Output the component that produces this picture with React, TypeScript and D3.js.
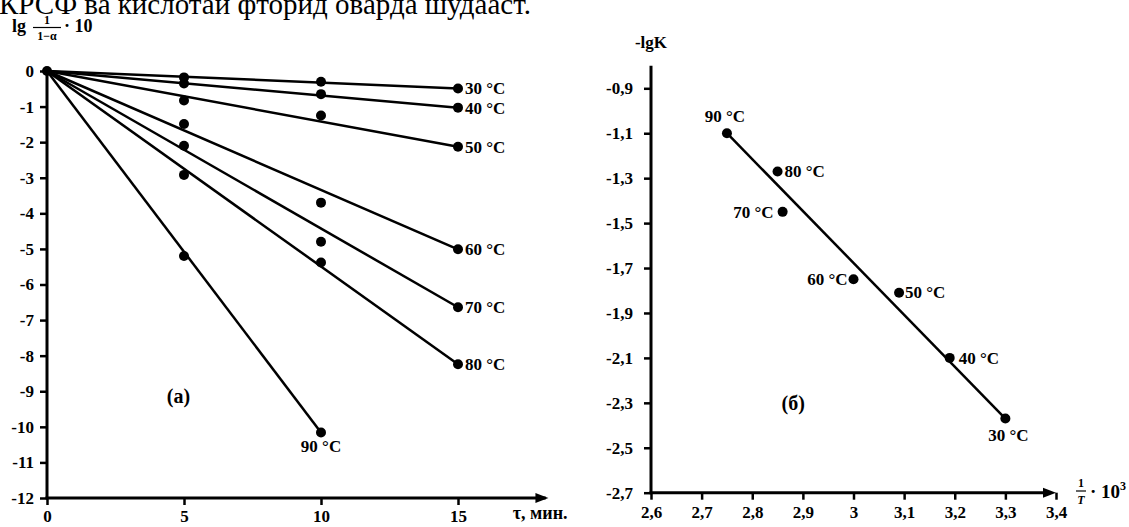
import * as d3 from "d3";
import React, { useEffect, useRef } from "react";

// (а) — lg(1/(1-α))·10 against time, min
const tau = [0, 5, 10, 15];
const tempsA = ["30 °C", "40 °C", "50 °C", "60 °C", "70 °C", "80 °C", "90 °C"];
const at5 = [-0.18, -0.35, -0.83, -1.49, -2.1, -2.92, -5.2];
const at10 = [-0.3, -0.65, -1.25, -3.7, -4.8, -5.38, -10.16];
const at15 = [-0.49, -1.03, -2.13, -5.01, -6.64, -8.24, null];
const yTicksA = [0, -1, -2, -3, -4, -5, -6, -7, -8, -9, -10, -11, -12];
const xTicksA = [0, 5, 10, 15];

// (б) — -lgK against 1/T·10^3
const tempsB = ["30 °C", "40 °C", "50 °C", "60 °C", "70 °C", "80 °C", "90 °C"];
const invT = [3.3, 3.19, 3.09, 3.0, 2.86, 2.85, 2.75];
const lgK = [-2.37, -2.1, -1.81, -1.75, -1.45, -1.27, -1.1];
const yTicksB = [-0.9, -1.1, -1.3, -1.5, -1.7, -1.9, -2.1, -2.3, -2.5, -2.7];
const xTicksB = [2.6, 2.7, 2.8, 2.9, 3, 3.1, 3.2, 3.3, 3.4];

const headerText = "КРСФ ва кислотаи фторид оварда шудааст.";

const FONT = '"Liberation Serif", "Times New Roman", "DejaVu Serif", serif';

const App = () => {
  const svgRef = useRef<SVGSVGElement>(null);

  useEffect(() => {
    const w = 1129;
    const h = 527;
    const svg = d3.select(svgRef.current).attr("width", w).attr("height", h);
    svg.selectAll("*").remove();

    svg.append("rect").attr("width", w).attr("height", h).attr("fill", "#fff");

    const txt = (g, x, y, size, s) =>
      g.append("text")
        .attr("x", x).attr("y", y)
        .style("font-family", FONT)
        .style("font-size", size + "px")
        .style("font-weight", "bold")
        .text(s);

    // cut off line of the page text above the figure
    txt(svg, -1, 14, 29, headerText).style("font-weight", "normal");

    const arrow = (g, x, y) => {
      g.append("path")
        .attr("d", `M${x},${y} L${x - 13},${y - 5} L${x - 13},${y + 5} Z`)
        .attr("fill", "#000");
    };

    const styleAxis = (g) => {
      g.select(".domain").remove();
      g.attr("font-family", null).attr("font-size", null);
      g.selectAll("text")
        .style("font-family", FONT)
        .style("font-size", "17px")
        .style("font-weight", "bold");
      g.selectAll(".tick line").attr("stroke-width", 2.5);
    };

    // ---------- chart (а) ----------
    const xA = d3.scaleLinear().domain([0, 15]).range([47, 458]);
    const yA = d3.scaleLinear().domain([0, -12]).range([71, 498]);
    const gA = svg.append("g");

    gA.append("g")
      .attr("transform", `translate(${xA(0)},0)`)
      .call(d3.axisLeft(yA).tickValues(yTicksA).tickSize(7).tickSizeOuter(0).tickPadding(6).tickFormat(d => String(d)))
      .call(styleAxis);

    gA.append("g")
      .attr("transform", `translate(0,${yA(-12)})`)
      .call(d3.axisBottom(xA).tickValues(xTicksA).tickSize(7).tickSizeOuter(0).tickPadding(5).tickFormat(d => String(d)))
      .call(styleAxis);

    gA.append("line")
      .attr("x1", xA(0)).attr("x2", xA(0)).attr("y1", yA(0)).attr("y2", yA(-12))
      .attr("stroke", "#000").attr("stroke-width", 3);
    gA.append("line")
      .attr("x1", xA(0) - 1.5).attr("x2", xA(18.2)).attr("y1", yA(-12)).attr("y2", yA(-12))
      .attr("stroke", "#000").attr("stroke-width", 3);
    arrow(gA, xA(18.3), yA(-12));

    txt(gA, xA(17), yA(-12) + 21, 18, "τ, мин.");

    // y axis title  lg 1/(1−α) · 10
    txt(gA, 12, 32, 18, "lg");
    txt(gA, 47, 24, 12, "1").attr("text-anchor", "middle");
    gA.append("line").attr("x1", 33).attr("x2", 61).attr("y1", 27.5).attr("y2", 27.5).attr("stroke", "#000").attr("stroke-width", 1.2);
    txt(gA, 47, 40, 12, "1−α").attr("text-anchor", "middle");
    txt(gA, 64, 32, 18, "· 10");

    // fitted lines through the origin
    tempsA.forEach((name, i) => {
      const endT = at15[i] != null ? tau[3] : tau[2];
      const endV = at15[i] != null ? at15[i] : at10[i];
      gA.append("line")
        .attr("x1", xA(tau[0])).attr("y1", yA(0))
        .attr("x2", xA(endT)).attr("y2", yA(endV))
        .attr("stroke", "#000").attr("stroke-width", 2.5);
    });

    const ptsA = [[tau[0], 0]];
    tempsA.forEach((name, i) => {
      ptsA.push([tau[1], at5[i]]);
      ptsA.push([tau[2], at10[i]]);
      if (at15[i] != null) ptsA.push([tau[3], at15[i]]);
    });
    gA.selectAll("circle.pa")
      .data(ptsA)
      .enter()
      .append("circle")
      .attr("class", "pa")
      .attr("cx", d => xA(d[0]))
      .attr("cy", d => yA(d[1]))
      .attr("r", 5)
      .attr("fill", "#000");

    tempsA.forEach((name, i) => {
      const last = at15[i] != null;
      txt(gA,
        last ? xA(tau[3]) + 7 : xA(tau[2]),
        last ? yA(at15[i]) + 6 : yA(at10[i]) + 19,
        17, name)
        .attr("text-anchor", last ? "start" : "middle");
    });

    txt(gA, xA(4.8), yA(-9.32), 20, "(а)").attr("text-anchor", "middle");

    // ---------- chart (б) ----------
    const xB = d3.scaleLinear().domain([2.6, 3.4]).range([651, 1056]);
    const yB = d3.scaleLinear().domain([-0.9, -2.7]).range([88.3, 492.7]);
    const gB = svg.append("g");
    const fmt = d => String(d).replace(".", ",");

    gB.append("g")
      .attr("transform", `translate(${xB(2.6)},0)`)
      .call(d3.axisLeft(yB).tickValues(yTicksB).tickSize(7).tickSizeOuter(0).tickPadding(11).tickFormat(fmt))
      .call(styleAxis);

    gB.append("g")
      .attr("transform", `translate(0,${yB(-2.7)})`)
      .call(d3.axisBottom(xB).tickValues(xTicksB).tickSize(7).tickSizeOuter(0).tickPadding(6).tickFormat(fmt))
      .call(styleAxis);

    gB.append("line")
      .attr("x1", xB(2.6)).attr("x2", xB(2.6)).attr("y1", yB(-0.8)).attr("y2", yB(-2.7))
      .attr("stroke", "#000").attr("stroke-width", 3);
    gB.append("line")
      .attr("x1", xB(2.6) - 1.5).attr("x2", xB(3.39)).attr("y1", yB(-2.7)).attr("y2", yB(-2.7))
      .attr("stroke", "#000").attr("stroke-width", 3);
    arrow(gB, xB(3.4), yB(-2.7));

    txt(gB, xB(2.6), 48, 17, "-lgK").attr("text-anchor", "middle");

    // x axis title 1/T · 10^3
    txt(gB, 1081, 487, 12, "1").attr("text-anchor", "middle");
    gB.append("line").attr("x1", 1076).attr("x2", 1086).attr("y1", 491).attr("y2", 491).attr("stroke", "#000").attr("stroke-width", 1.2);
    txt(gB, 1081, 504, 12, "T").attr("text-anchor", "middle").style("font-style", "italic");
    const tt = txt(gB, 1090, 498, 19, "");
    tt.append("tspan").text("· 10");
    tt.append("tspan").style("font-size", "12px").attr("dy", -8).text("3");

    // regression line between the extreme points
    const ends = [6, 0];
    gB.append("line")
      .attr("x1", xB(invT[ends[0]])).attr("y1", yB(lgK[ends[0]]))
      .attr("x2", xB(invT[ends[1]])).attr("y2", yB(lgK[ends[1]]))
      .attr("stroke", "#000").attr("stroke-width", 2.5);

    gB.selectAll("circle.pb")
      .data(invT.map((v, i) => [v, lgK[i]]))
      .enter()
      .append("circle")
      .attr("class", "pb")
      .attr("cx", d => xB(d[0]))
      .attr("cy", d => yB(d[1]))
      .attr("r", 5)
      .attr("fill", "#000");

    // label placement: [anchor, dx, dy]
    const placeB = [
      ["middle", 3, 22],
      ["start", 9, 6],
      ["start", 6, 5],
      ["end", -6, 6],
      ["end", -9, 6],
      ["start", 7, 6],
      ["middle", -2, -11],
    ];
    tempsB.forEach((name, i) => {
      txt(gB, xB(invT[i]) + placeB[i][1], yB(lgK[i]) + placeB[i][2], 17, name)
        .attr("text-anchor", placeB[i][0]);
    });

    txt(gB, xB(2.881), yB(-2.33), 20, "(б)").attr("text-anchor", "middle");
  }, []);

  return <svg ref={svgRef} style={{ position: "absolute", left: 0, top: 0, display: "block" }} />;
};

export default App;
